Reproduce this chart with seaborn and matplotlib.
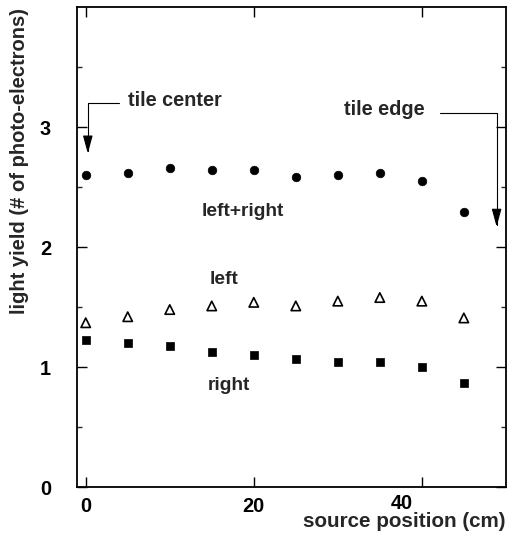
import matplotlib
matplotlib.use("Agg")
import matplotlib.pyplot as plt
import matplotlib.transforms as mtransforms
import seaborn as sns
import pandas as pd

# source positions along the tile (cm)
position = [0, 5, 10, 15, 20, 25, 30, 35, 40, 45]
# light yield in photo-electrons
yield_sum = [2.60, 2.62, 2.66, 2.64, 2.64, 2.58, 2.60, 2.62, 2.55, 2.29]
yield_left = [1.37, 1.42, 1.48, 1.51, 1.54, 1.51, 1.55, 1.58, 1.55, 1.41]
yield_right = [1.23, 1.20, 1.18, 1.13, 1.10, 1.07, 1.04, 1.04, 1.00, 0.87]

x_ticks = [0, 20, 40]
y_ticks = [0, 1, 2, 3]

sns.set_style("ticks")
plt.rcParams["font.family"] = ["Liberation Sans", "DejaVu Sans"]
plt.rcParams["font.weight"] = "bold"

fig = plt.figure(figsize=(5.12, 5.36), dpi=100)
ax = fig.add_axes([0.151, 0.091, 0.837, 0.896])

df = pd.DataFrame({"pos": position, "sum": yield_sum,
                   "left": yield_left, "right": yield_right})

sns.scatterplot(data=df, x="pos", y="sum", ax=ax, marker="o", s=38,
                color="black", edgecolor="black", linewidth=0.5, zorder=3)
sns.scatterplot(data=df, x="pos", y="left", ax=ax, marker="^", s=46,
                facecolors="none", edgecolor="black", linewidth=1.2, zorder=3)
sns.scatterplot(data=df, x="pos", y="right", ax=ax, marker="s", s=40,
                color="black", edgecolor="black", linewidth=0.5, zorder=3)

ax.set_xlim(-1, 50)
ax.set_ylim(0, 4)
ax.set_xticks(x_ticks)
ax.set_yticks(y_ticks)
ax.set_yticks([0.5, 1.5, 2.5, 3.5], minor=True)

for side in ax.spines.values():
    side.set_linewidth(1.3)
    side.set_color("black")
    side.set_visible(True)

ax.tick_params(axis="both", which="major", direction="in", length=7,
               width=1.0, top=True, right=True, labelsize=14.3, colors="black")
ax.tick_params(axis="y", which="minor", direction="in", length=3.5,
               width=1.0, left=True, right=True)
ax.tick_params(axis="x", pad=7)
ax.tick_params(axis="y", pad=19)
for lab in ax.get_xticklabels() + ax.get_yticklabels():
    lab.set_fontweight("bold")

# the "40" label sits a little to the left of its tick and a touch higher
xl = ax.get_xticklabels()
xl[-1].set_transform(xl[-1].get_transform()
                     + mtransforms.ScaledTranslation(-0.2, 0.03, fig.dpi_scale_trans))

ax.set_xlabel("source position (cm)", fontsize=14.9, fontweight="bold",
              ha="right")
ax.xaxis.set_label_coords(1.0, -0.051)
ax.set_ylabel("light yield (# of photo-electrons)", fontsize=14.5,
              fontweight="bold")
ax.yaxis.set_label_coords(-0.112, 0.68)

# curve labels
ax.text(13.8, 2.255, "left+right", fontsize=13.8, fontweight="bold",
        ha="left", va="baseline")
ax.text(14.7, 1.695, "left", fontsize=13.8, fontweight="bold",
        ha="left", va="baseline")
ax.text(14.55, 0.81, "right", fontsize=13.8, fontweight="bold",
        ha="left", va="baseline")

# callouts marking the tile center and tile edge
arrow = dict(arrowstyle="-|>,head_length=1.1,head_width=0.3",
             connectionstyle="angle,angleA=0,angleB=90,rad=0",
             color="black", lw=0.8, shrinkA=0, shrinkB=0, mutation_scale=10)
ax.annotate("", xy=(0.25, 2.78), xytext=(4.0, 3.20), arrowprops=arrow)
ax.text(5.0, 3.175, "tile center", fontsize=14.3, fontweight="bold",
        ha="left", va="baseline")
ax.annotate("", xy=(48.9, 2.17), xytext=(42.2, 3.12), arrowprops=arrow)
ax.text(30.7, 3.10, "tile edge", fontsize=14.3, fontweight="bold",
        ha="left", va="baseline")

fig.savefig("out.png", dpi=100)
